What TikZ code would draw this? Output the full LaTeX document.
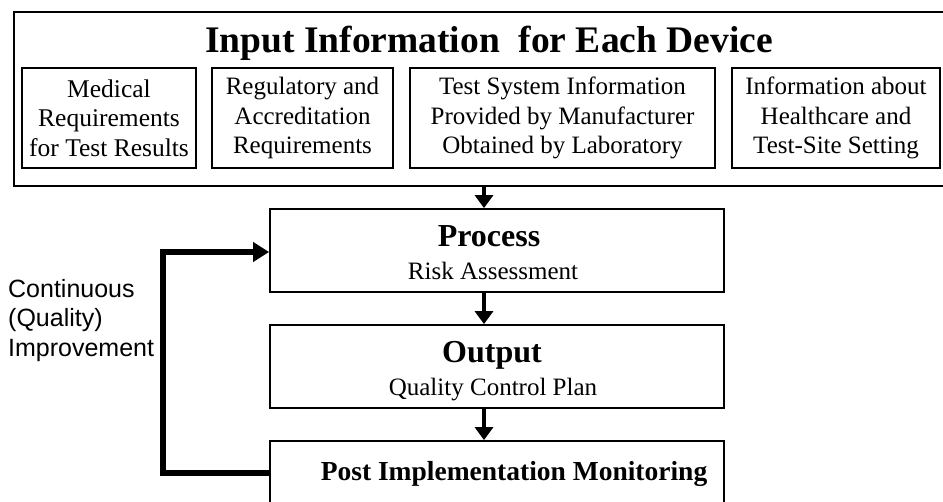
\documentclass[tikz,border=0pt]{standalone}
\usepackage{fontspec}
\setmainfont{Liberation Serif}
\newfontfamily\arialfont{Liberation Sans}
\usetikzlibrary{arrows.meta}
\begin{document}
\begin{tikzpicture}[x=1pt,y=-1pt,
  box/.style={draw,line width=1.8pt,inner sep=0pt,align=center},
  inbox/.style={box,minimum height=100pt,font=\fontsize{25}{29.5}\selectfont},
  bigbox/.style={box,minimum width=454pt,minimum height=83pt},
  sub/.style={anchor=base,inner sep=0pt,font=\fontsize{25}{29.5}\selectfont},
  head/.style={anchor=base,inner sep=0pt,font=\fontsize{32}{36}\selectfont\bfseries},
  flow/.style={line width=4.5pt,-{Triangle[width=18pt,length=13pt]}},
  fb/.style={line width=5.5pt,-{Triangle[width=19pt,length=16pt]}}]
\clip (0,0) rectangle (943,502);
\fill[white] (0,0) rectangle (943,502);
% outer input box
\node[box,minimum width=950pt,minimum height=174pt] (outer) at (489,99) {};
\node[anchor=base,inner sep=0pt,font=\fontsize{37.5}{40}\selectfont\bfseries] (title) at (489,53) {Input Information\hspace{0.5em}for Each Device};
\node[inbox,minimum width=174pt,font=\fontsize{25.5}{29.5}\selectfont] (b1) at (109,118) {Medical\\Requirements\\for Test Results};
\node[inbox,minimum width=181pt] (b2) at (302.5,118) {Regulatory and\\Accreditation\\Requirements};
\node[inbox,minimum width=305pt] (b3) at (562.5,118) {Test System Information\\Provided by Manufacturer\\Obtained by Laboratory};
\node[inbox,minimum width=208pt] (b4) at (836,118) {Information about\\Healthcare and\\Test-Site Setting};
% process
\node[bigbox] (proc) at (497,250.5) {};
\node[head] (proch) at (489,247) {Process};
\node[sub] (procs) at (493,280) {Risk Assessment};
% output
\node[bigbox] (outp) at (497,366.5) {};
\node[head] (outh) at (492,363) {Output};
\node[sub] (outs) at (493,396) {Quality Control Plan};
% post
\node[box,minimum width=454pt,minimum height=84pt] (post) at (497,483) {};
\node[anchor=base,inner sep=0pt,font=\fontsize{27.5}{30}\selectfont\bfseries] (posth) at (514,481) {Post Implementation Monitoring};
% label
\node[anchor=north west,inner sep=0pt,align=left,font=\arialfont\fontsize{25}{29.5}\selectfont] (lbl) at (8,279) {Continuous\\(Quality)\\Improvement};
% arrows
\draw[flow] (outer.south -| 484,0) -- (proc.north -| 484,0);
\draw[flow] (proc.south -| 484,0) -- (outp.north -| 484,0);
\draw[flow] (outp.south -| 484,0) -- (post.north -| 484,0);
\coordinate (fbs) at (270,473);
\coordinate (fbc) at (163,252);
\draw[fb] (fbs) -| (fbc) -- (proc.west |- fbc);
\end{tikzpicture}
\end{document}
